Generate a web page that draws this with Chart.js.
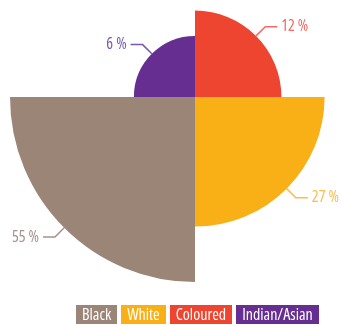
<!DOCTYPE html>
<html lang="en">

<head>
    <meta charset="UTF-8">
    <title>Population groups</title>
    <style>
        body { margin: 0; background: #fff; }
        #wrap { position: relative; width: 340px; height: 327px; overflow: hidden; }
        #box { position: absolute; left: -15px; top: -113px; width: 420px; height: 420px; }
        #legend { position: absolute; left: 76px; top: 305px; display: flex; z-index: 2; }
        #legend span {
            display: block; height: 19px; line-height: 19px; padding: 0 6px; margin-right: 4px;
            color: #fff; font-family: "Open Sans", sans-serif; font-size: 16px; font-stretch: 84%;
        }
    </style>
</head>

<body>
    <div id="wrap">
        <div id="box"><canvas id="popChart" width="420" height="420"></canvas></div>
        <div id="legend"></div>
    </div>

    <script src="https://cdn.jsdelivr.net/npm/chart.js"></script>
    <script>
        // legend order
        const groups = ["Black", "White", "Coloured", "Indian/Asian"]
        const shares = [55, 27, 12, 6]
        const colours = ["#9b8577", "#f9b016", "#ee4530", "#662e91"]
        const labelColours = ["#a5918f", "#fbbd4a", "#f36a66", "#7a58b0"]

        // slices run the other way round, so the chart gets them reversed
        const chartGroups = groups.slice().reverse()
        const chartShares = shares.slice().reverse()
        const chartColours = colours.slice().reverse()
        const chartLabelColours = labelColours.slice().reverse()

        // legend
        const legend = document.getElementById("legend")
        groups.forEach((g, i) => {
            let s = document.createElement("span")
            s.textContent = g
            s.style.background = colours[i]
            legend.appendChild(s)
        })

        const leaderLabels = {
            id: "leaderLabels",
            afterDatasetsDraw(chart) {
                const ctx = chart.ctx
                const meta = chart.getDatasetMeta(0)
                ctx.save()
                ctx.font = '16px "Open Sans", sans-serif'
                ctx.fontStretch = "semi-condensed"
                ctx.textBaseline = "middle"
                ctx.lineWidth = 1.5
                meta.data.forEach((arc, i) => {
                    const p = arc.getProps(["x", "y", "startAngle", "endAngle", "outerRadius"], true)
                    const mid = (p.startAngle + p.endAngle) / 2
                    const cos = Math.cos(mid), sin = Math.sin(mid)
                    const x1 = p.x + p.outerRadius * cos, y1 = p.y + p.outerRadius * sin
                    const x2 = p.x + (p.outerRadius + 13) * cos, y2 = p.y + (p.outerRadius + 13) * sin
                    const dir = cos >= 0 ? 1 : -1
                    const x3 = x2 + dir * 12
                    ctx.strokeStyle = chartLabelColours[i]
                    ctx.beginPath()
                    ctx.moveTo(x1, y1)
                    ctx.lineTo(x2, y2)
                    ctx.lineTo(x3, y2)
                    ctx.stroke()
                    ctx.fillStyle = chartLabelColours[i]
                    ctx.textAlign = dir > 0 ? "left" : "right"
                    ctx.fillText(chartShares[i] + " %", x3 + dir * 4, y2)
                })
                ctx.restore()
            }
        }

        new Chart(document.getElementById("popChart"), {
            type: "polarArea",
            data: {
                labels: chartGroups,
                datasets: [{
                    // radius follows the square root, so the area matches the share
                    data: chartShares.map(v => Math.sqrt(v)),
                    backgroundColor: chartColours,
                    borderWidth: 0
                }]
            },
            options: {
                responsive: false,
                animation: false,
                layout: { padding: 25 },
                scales: {
                    r: {
                        display: false,
                        startAngle: -90,
                        min: 0,
                        max: Math.sqrt(Math.max(...shares))
                    }
                },
                plugins: {
                    legend: { display: false },
                    tooltip: { enabled: false }
                }
            },
            plugins: [leaderLabels]
        })
    </script>
</body>

</html>
